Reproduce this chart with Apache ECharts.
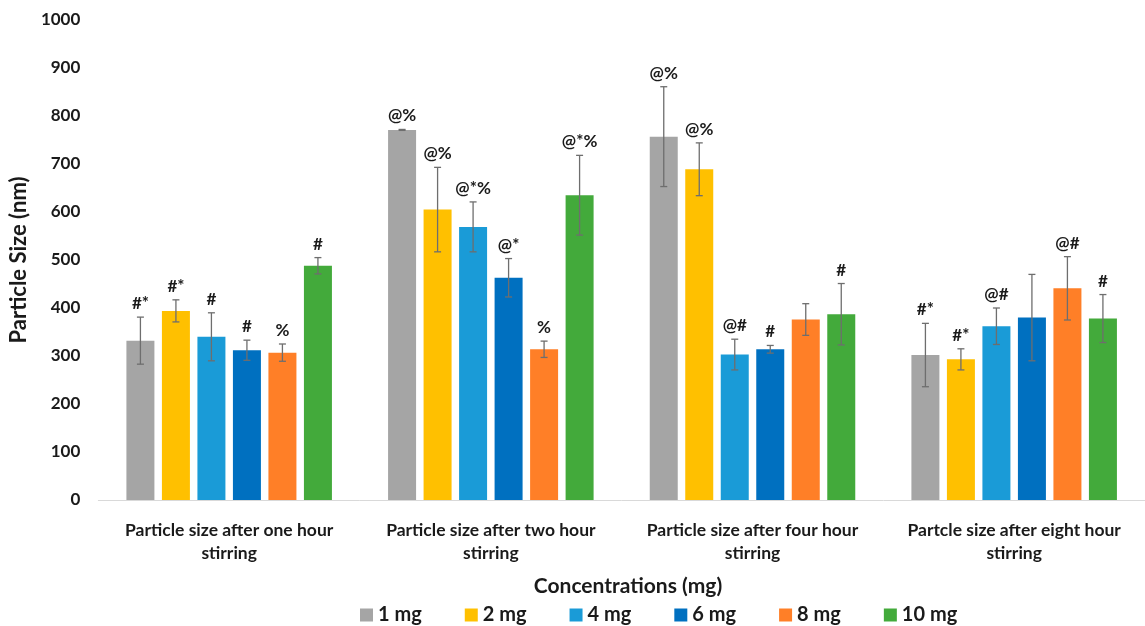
<!DOCTYPE html>
<html>
<head>
<meta charset="utf-8">
<script src="https://cdn.jsdelivr.net/npm/echarts@6/dist/echarts.min.js"></script>
<style>
html,body{margin:0;padding:0;background:#fff;}
#chart{width:1145px;height:626px;}
</style>
</head>
<body>
<div id="chart"></div>
<script>
const categories = [
  'Particle size after one hour\nstirring',
  'Particle size after two hour\nstirring',
  'Particle size after four hour\nstirring',
  'Partcle size after eight hour\nstirring'
];
const seriesNames = ['1 mg', '2 mg', '4 mg', '6 mg', '8 mg', '10 mg'];
const colors = ['#A5A5A5', '#FFC000', '#1A9BD7', '#0070C0', '#FF7F27', '#43AA3B'];

const mean1 = [332, 771, 757, 302];
const mean2 = [394, 605, 689, 293];
const mean4 = [340, 569, 303, 362];
const mean6 = [312, 463, 314, 380];
const mean8 = [307, 314, 376, 441];
const mean10 = [488, 635, 387, 378];

const err1 = [49, 1, 104, 66];
const err2 = [23, 88, 55, 22];
const err4 = [50, 52, 32, 38];
const err6 = [21, 40, 8, 90];
const err8 = [18, 17, 33, 66];
const err10 = [17, 83, 64, 50];

const sig1 = ['#*', '@%', '@%', '#*'];
const sig2 = ['#*', '@%', '@%', '#*'];
const sig4 = ['#', '@*%', '@#', '@#'];
const sig6 = ['#', '@*', '#', ''];
const sig8 = ['%', '%', '', '@#'];
const sig10 = ['#', '@*%', '#', '#'];

const yTicks = [0, 100, 200, 300, 400, 500, 600, 700, 800, 900, 1000];

const means = [mean1, mean2, mean4, mean6, mean8, mean10];
const errs = [err1, err2, err4, err6, err8, err10];
const sigs = [sig1, sig2, sig4, sig6, sig8, sig10];

const FONT = 'Lato, "Open Sans", sans-serif';
const BAR_W = 28;
const BAR_GAP_PX = 7.5;

const series = [];
means.forEach((m, i) => {
  series.push({
    name: seriesNames[i],
    type: 'bar',
    data: m,
    barWidth: BAR_W,
    barGap: (BAR_GAP_PX / BAR_W * 100).toFixed(1) + '%',
    itemStyle: { color: colors[i] },
    silent: true
  });
});
means.forEach((m, i) => {
  const offset = (i - 2.5) * (BAR_W + BAR_GAP_PX);
  series.push({
    type: 'custom',
    silent: true,
    z: 5,
    data: m.map((v, k) => [k, v, errs[i][k]]),
    encode: { x: 0, y: 1 },
    renderItem: function (params, api) {
      const c = api.value(0);
      const v = api.value(1);
      const e = api.value(2);
      const lab = sigs[i][c];
      const pTop = api.coord([c, v + e]);
      const pBot = api.coord([c, v - e]);
      const x = pTop[0] + offset;
      const cap = 3.5;
      const st = { stroke: '#6E6E6E', lineWidth: 1.3 };
      const children = [
        { type: 'line', shape: { x1: x, y1: pTop[1], x2: x, y2: pBot[1] }, style: st },
        { type: 'line', shape: { x1: x - cap, y1: pTop[1], x2: x + cap, y2: pTop[1] }, style: st },
        { type: 'line', shape: { x1: x - cap, y1: pBot[1], x2: x + cap, y2: pBot[1] }, style: st }
      ];
      if (lab) {
        children.push({
          type: 'text',
          x: x,
          y: pTop[1] - 5,
          style: {
            text: lab,
            textAlign: 'center',
            textVerticalAlign: 'bottom',
            fontFamily: FONT,
            fontWeight: 'bold',
            fontSize: 17,
            fill: '#1a1a1a'
          }
        });
      }
      return { type: 'group', children: children };
    }
  });
});

const chart = echarts.init(document.getElementById('chart'));
chart.setOption({
  animation: false,
  backgroundColor: '#ffffff',
  textStyle: { fontFamily: FONT },
  grid: { left: 95, top: 20, width: 1067, height: 480, containLabel: false },
  legend: {
    data: seriesNames,
    left: 355,
    top: 600,
    itemWidth: 13,
    itemHeight: 13,
    itemGap: 43,
    icon: 'rect',
    selectedMode: false,
    textStyle: { fontFamily: FONT, fontWeight: 'bold', fontSize: 20, color: '#1a1a1a' }
  },
  graphic: [{
    type: 'text',
    x: 628,
    y: 586,
    style: {
      text: 'Concentrations (mg)',
      textAlign: 'center',
      textVerticalAlign: 'middle',
      fontFamily: FONT,
      fontWeight: 'bold',
      fontSize: 21,
      fill: '#1a1a1a'
    }
  }],
  xAxis: {
    type: 'category',
    data: categories,
    axisLine: { show: true, lineStyle: { color: '#D9D9D9', width: 1 } },
    axisTick: { show: false },
    axisLabel: {
      margin: 19,
      interval: 0,
      fontFamily: FONT,
      fontWeight: 'bold',
      fontSize: 17.5,
      lineHeight: 23,
      color: '#1a1a1a'
    }
  },
  yAxis: {
    type: 'value',
    min: yTicks[0],
    max: yTicks[yTicks.length - 1],
    interval: yTicks[1] - yTicks[0],
    name: 'Particle Size (nm)',
    nameLocation: 'middle',
    nameGap: 62,
    nameRotate: 90,
    nameTextStyle: { fontFamily: FONT, fontWeight: 'bold', fontSize: 22, color: '#1a1a1a' },
    axisLine: { show: false },
    axisTick: { show: false },
    splitLine: { show: false },
    axisLabel: {
      margin: 18,
      fontFamily: FONT,
      fontWeight: 'bold',
      fontSize: 17,
      color: '#1a1a1a',
      formatter: function (v) { return String(v); }
    }
  },
  tooltip: { show: false },
  series: series
});
</script>
</body>
</html>
